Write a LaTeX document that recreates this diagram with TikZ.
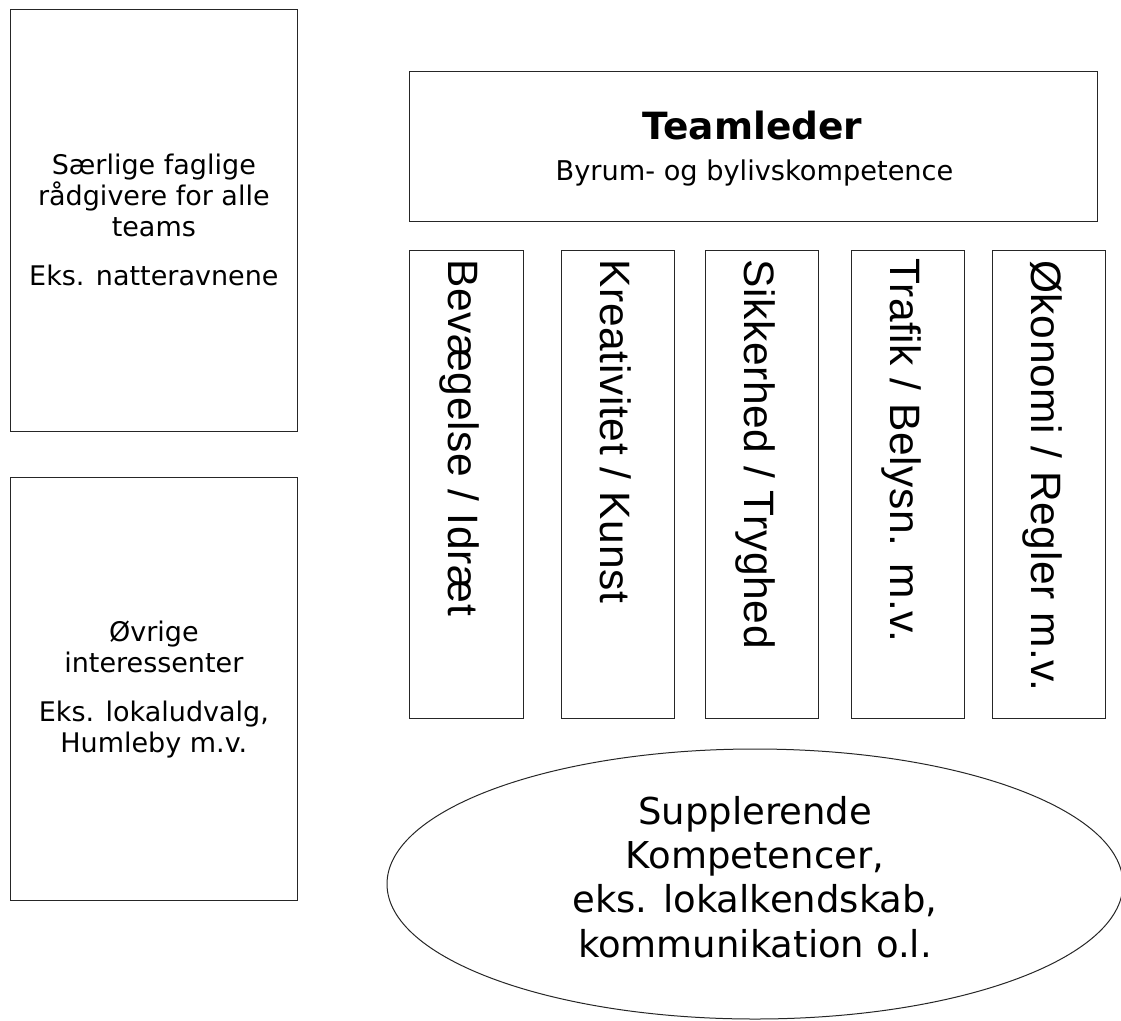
\documentclass[tikz,border=0pt]{standalone}
\usepackage{fontspec}
\setmainfont{DejaVu Sans}
\newfontfamily\arialfont[LetterSpace=1.6]{Liberation Sans}
\usetikzlibrary{shapes.geometric}
\tikzset{
  boxshape/.style={draw=black!85, line width=1.2pt, rectangle, inner sep=0pt, anchor=north west},
  sidetext/.style={font=\fontsize{27}{31}\selectfont, align=center},
  vtext/.style={font=\arialfont\fontsize{42.5}{50}\selectfont, rotate=-90, anchor=west,
                inner sep=0pt, text height=30.4pt, text depth=0pt},
  ellshape/.style={ellipse, draw=black!85, line width=1pt, inner sep=0pt,
                   minimum width=736pt, minimum height=270pt},
}
\begin{document}
\begin{tikzpicture}[x=1pt,y=-1pt]
\useasboundingbox (0,0) rectangle (1121,1020);

% left boxes
\node[boxshape, sidetext, minimum width=287.5pt, minimum height=422.5pt] (adv) at (9.5,8.5)
  {Særlige faglige\\rådgivere for alle\\teams\\[18pt]Eks. natteravnene};
\node[boxshape, sidetext, minimum width=287.5pt, minimum height=423pt] (oth) at (9.5,477)
  {Øvrige\\interessenter\\[18pt]Eks. lokaludvalg,\\Humleby m.v.};

% team leader
\node[boxshape, minimum width=688pt, minimum height=150pt] (tl) at (409,71) {};
\node[font=\fontsize{37.5}{44}\selectfont\bfseries, anchor=base, inner sep=0pt] (tlh) at (752.5,139) {Teamleder};
\node[font=\fontsize{27.2}{31}\selectfont, anchor=base, inner sep=0pt] (tls) at (754.5,180) {Byrum- og bylivskompetence};

% vertical boxes
\node[boxshape, minimum width=114pt, minimum height=468pt] (b1) at (409,250) {};
\node[boxshape, minimum width=113pt, minimum height=468pt] (b2) at (561,250) {};
\node[boxshape, minimum width=113pt, minimum height=468pt] (b3) at (705,250) {};
\node[boxshape, minimum width=113pt, minimum height=468pt] (b4) at (851,250) {};
\node[boxshape, minimum width=113pt, minimum height=468pt] (b5) at (992,250) {};

\node[vtext] (t1) at (464,259) {Bevægelse / Idræt};
\node[vtext] (t2) at (615.5,259) {Kreativitet / Kunst};
\node[vtext] (t3) at (759.5,259) {Sikkerhed / Tryghed};
\node[vtext] (t4) at (905.5,258) {Trafik / Belysn. m.v.};
\node[vtext] (t5) at (1046.5,260) {Økonomi / Regler m.v.};

% ellipse
\node[ellshape] (sup) at (755,884) {};
\node[font=\fontsize{37}{44.3}\selectfont, align=center, inner sep=0pt] (supt) at (755,877)
  {Supplerende\\Kompetencer,\\eks. lokalkendskab,\\kommunikation o.l.};
\end{tikzpicture}
\end{document}
